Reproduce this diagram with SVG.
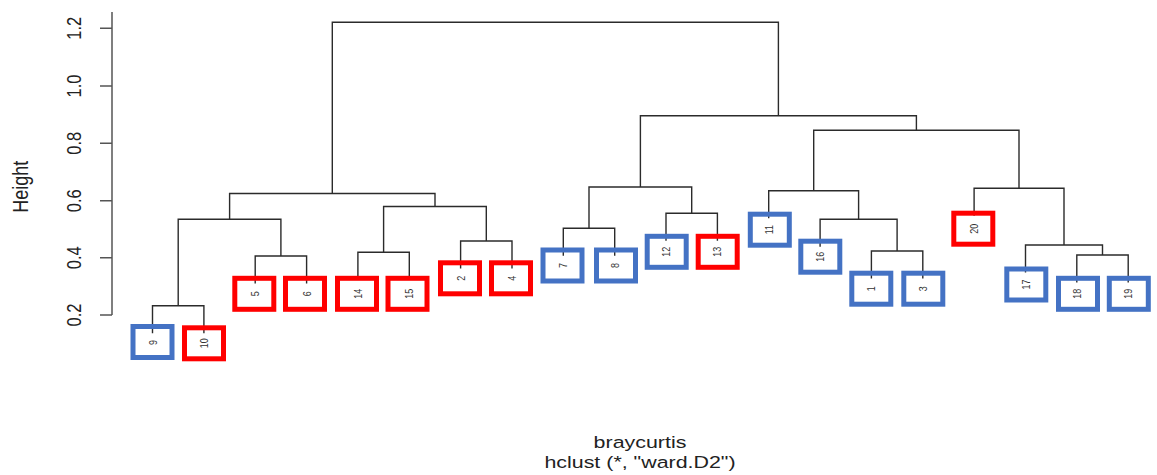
<svg xmlns="http://www.w3.org/2000/svg" width="1157" height="475" viewBox="0 0 1157 475">
<style>
text{font-family:"Liberation Sans",Arial,sans-serif;fill:#222}
.tick{font-size:16.5px}
.lab{font-size:9px;fill:#333}
.br{fill:none;stroke:#2b2b2b;stroke-width:1.4}
.ax{fill:none;stroke:#555;stroke-width:1.5}
.blue{fill:none;stroke:#4472C4;stroke-width:5}
.red{fill:none;stroke:#FF0000;stroke-width:5}
</style>
<rect width="1157" height="475" fill="#fff"/>
<g id="axis">
<path class="ax" d="M112 12V315M100 28.3H112M100 86H112M100 143.3H112M100 200.7H112M100 257.7H112M100 315H112"/>
<g class="tick" text-anchor="middle">
<text transform="translate(81,28.3) rotate(-90) scale(1,1.24)">1.2</text>
<text transform="translate(81,86) rotate(-90) scale(1,1.24)">1.0</text>
<text transform="translate(81,143.3) rotate(-90) scale(1,1.24)">0.8</text>
<text transform="translate(81,200.7) rotate(-90) scale(1,1.24)">0.6</text>
<text transform="translate(81,257.7) rotate(-90) scale(1,1.24)">0.4</text>
<text transform="translate(81,315) rotate(-90) scale(1,1.24)">0.2</text>
</g>
<text transform="translate(27.5,186.7) rotate(-90) scale(1,1.2)" text-anchor="middle" font-size="18">Height</text>
</g>
<g id="connectors">
<path class="br" d="M152.5 333.2V305.7H203.9V333.2"/>
<path class="br" d="M255.2 283.5V256H306.6V283.5"/>
<path class="br" d="M178.2 305.7V219.3H280.9V256"/>
<path class="br" d="M357.9 279.8V252.3H409.3V279.8"/>
<path class="br" d="M460.6 268.5V241H512V268.5"/>
<path class="br" d="M383.6 252.3V206.5H486.3V241"/>
<path class="br" d="M229.6 219.3V193.5H435V206.5"/>
<path class="br" d="M563.3 255.8V228.3H614.7V255.8"/>
<path class="br" d="M666 240.8V213.3H717.4V240.8"/>
<path class="br" d="M589 228.3V187H691.7V213.3"/>
<path class="br" d="M871.4 278.5V251H922.8V278.5"/>
<path class="br" d="M820.1 246.8V219.3H897.1V251"/>
<path class="br" d="M768.7 218.2V190.7H858.6V219.3"/>
<path class="br" d="M1076.8 282.5V255H1128.2V282.5"/>
<path class="br" d="M1025.5 272.5V245H1102.5V255"/>
<path class="br" d="M974.1 215.8V188.3H1064V245"/>
<path class="br" d="M813.7 190.7V130.3H1019V188.3"/>
<path class="br" d="M640.4 187V115.7H916.4V130.3"/>
<path class="br" d="M332.3 193.5V22.3H778.4V115.7"/>
</g>
<g id="leaf-9"><rect class="blue" x="133" y="326.5" width="39" height="31"/><text class="lab" text-anchor="middle" transform="translate(156.5,342.5) rotate(-90) scale(1,1.24)">9</text></g>
<g id="leaf-10"><rect class="red" x="184.5" y="327.8" width="39" height="31"/><text class="lab" text-anchor="middle" transform="translate(208,343.3) rotate(-90) scale(1,1.24)">10</text></g>
<g id="leaf-5"><rect class="red" x="234.8" y="278.3" width="39" height="31"/><text class="lab" text-anchor="middle" transform="translate(259.2,293.8) rotate(-90) scale(1,1.24)">5</text></g>
<g id="leaf-6"><rect class="red" x="285.5" y="278.3" width="39" height="31"/><text class="lab" text-anchor="middle" transform="translate(310.6,293.8) rotate(-90) scale(1,1.24)">6</text></g>
<g id="leaf-14"><rect class="red" x="337.5" y="278.3" width="39" height="31"/><text class="lab" text-anchor="middle" transform="translate(361.9,293.8) rotate(-90) scale(1,1.24)">14</text></g>
<g id="leaf-15"><rect class="red" x="388" y="278.3" width="39" height="31"/><text class="lab" text-anchor="middle" transform="translate(413.3,293.8) rotate(-90) scale(1,1.24)">15</text></g>
<g id="leaf-2"><rect class="red" x="440.5" y="262.8" width="39" height="31"/><text class="lab" text-anchor="middle" transform="translate(464.6,278.3) rotate(-90) scale(1,1.24)">2</text></g>
<g id="leaf-4"><rect class="red" x="491.5" y="262.8" width="39" height="31"/><text class="lab" text-anchor="middle" transform="translate(516,278.3) rotate(-90) scale(1,1.24)">4</text></g>
<g id="leaf-7"><rect class="blue" x="543" y="250" width="39" height="31"/><text class="lab" text-anchor="middle" transform="translate(567.3,265.5) rotate(-90) scale(1,1.24)">7</text></g>
<g id="leaf-8"><rect class="blue" x="596.5" y="250" width="39" height="31"/><text class="lab" text-anchor="middle" transform="translate(618.7,265.5) rotate(-90) scale(1,1.24)">8</text></g>
<g id="leaf-12"><rect class="blue" x="647.2" y="236.3" width="39" height="31"/><text class="lab" text-anchor="middle" transform="translate(670,251.8) rotate(-90) scale(1,1.24)">12</text></g>
<g id="leaf-13"><rect class="red" x="698.2" y="236.3" width="39" height="31"/><text class="lab" text-anchor="middle" transform="translate(721.4,251.8) rotate(-90) scale(1,1.24)">13</text></g>
<g id="leaf-11"><rect class="blue" x="750.3" y="214.2" width="39" height="31"/><text class="lab" text-anchor="middle" transform="translate(772.7,229.7) rotate(-90) scale(1,1.24)">11</text></g>
<g id="leaf-16"><rect class="blue" x="800.8" y="241.2" width="39" height="31"/><text class="lab" text-anchor="middle" transform="translate(824.1,256.7) rotate(-90) scale(1,1.24)">16</text></g>
<g id="leaf-1"><rect class="blue" x="851.8" y="273.2" width="39" height="31"/><text class="lab" text-anchor="middle" transform="translate(875.4,288.7) rotate(-90) scale(1,1.24)">1</text></g>
<g id="leaf-3"><rect class="blue" x="903.8" y="273.2" width="39" height="31"/><text class="lab" text-anchor="middle" transform="translate(926.8,288.7) rotate(-90) scale(1,1.24)">3</text></g>
<g id="leaf-20"><rect class="red" x="953.8" y="213.2" width="39" height="31"/><text class="lab" text-anchor="middle" transform="translate(978.1,228.7) rotate(-90) scale(1,1.24)">20</text></g>
<g id="leaf-17"><rect class="blue" x="1006.8" y="269" width="39" height="31"/><text class="lab" text-anchor="middle" transform="translate(1029.5,284.5) rotate(-90) scale(1,1.24)">17</text></g>
<g id="leaf-18"><rect class="blue" x="1058.5" y="278.3" width="39" height="31"/><text class="lab" text-anchor="middle" transform="translate(1080.8,293.8) rotate(-90) scale(1,1.24)">18</text></g>
<g id="leaf-19"><rect class="blue" x="1109.3" y="278.3" width="39" height="31"/><text class="lab" text-anchor="middle" transform="translate(1132.2,293.8) rotate(-90) scale(1,1.24)">19</text></g>
<g id="title" text-anchor="middle" font-size="17.4">
<text transform="translate(640,447.5) scale(1.23,1)">braycurtis</text>
<text transform="translate(640,467.5) scale(1.23,1)">hclust (*, "ward.D2")</text>
</g>
</svg>
